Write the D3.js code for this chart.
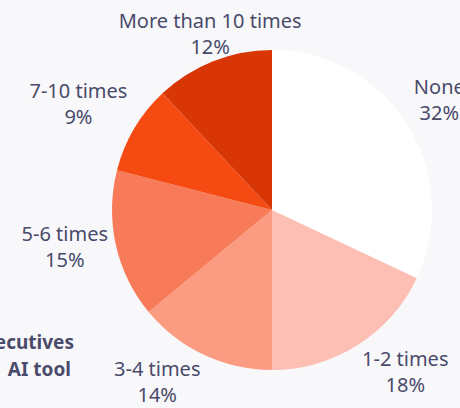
<!DOCTYPE html>
<html>
<head>
<meta charset="utf-8">
<script src="https://cdn.jsdelivr.net/npm/d3@7"></script>
<style>
  html, body { margin: 0; padding: 0; background: #f8f8fb; }
  svg { display: block; }
  .slice-label { font-family: "Noto Sans", sans-serif; font-size: 20px; fill: #4a4a6a; }
  .title { font-family: "Noto Sans", sans-serif; font-size: 19px; font-weight: 700; fill: #4a4a6a; }
</style>
</head>
<body>
<svg id="chart" width="460" height="408"></svg>
<script>

// Usage buckets, clockwise from 12 o'clock
var categories = ['None', '1-2 times', '3-4 times', '5-6 times', '7-10 times', 'More than 10 times'];
var shares = [32, 18, 14, 15, 9, 12];
var colors = ['#ffffff', '#fdbfb3', '#fb9c82', '#f77b58', '#f54a12', '#d93606'];

// Title lines (left part runs off the canvas)
var titleLines = ['How often executives', 'used an\u2002AI tool'];

var width = 460,
    height = 408,
    cx = 272,
    cy = 210,
    radius = 160;

var svg = d3.select('#chart');

var data = categories.map(function(c, i) {
	return {label: c, value: shares[i], color: colors[i]};
});

var pie = d3.pie()
	.sort(null)
	.value(function(d) { return d.value; });

var arc = d3.arc()
	.innerRadius(0)
	.outerRadius(radius);

var arcs = pie(data);

var g = svg.append('g')
	.attr('transform', 'translate(' + cx + ',' + cy + ')');

// Slices
g.selectAll('path')
	.data(arcs)
	.enter()
	.append('path')
	.attr('d', arc)
	.attr('fill', function(d) { return d.data.color; });

// Labels: an anchor point just outside the rim on the mid angle; the text
// block hangs off that point by the side / corner facing the pie
// (compass direction snapped to 45 degrees)
var lineHeight = 26;
var capHeight = 14;
var labelRadius = radius + 8;

var labels = g.selectAll('.slice-label')
	.data(arcs)
	.enter()
	.append('text')
	.attr('class', 'slice-label')
	.attr('text-anchor', 'middle');

labels.append('tspan')
	.attr('x', 0)
	.attr('dy', 0)
	.text(function(d) { return d.data.label; });

labels.append('tspan')
	.attr('x', 0)
	.attr('dy', lineHeight)
	.text(function(d) { return d.data.value + '%'; });

labels.attr('transform', function(d) {
	var a = (d.startAngle + d.endAngle) / 2;
	var w = this.getBBox().width;
	var h = capHeight + lineHeight;
	var k = Math.round(a / (Math.PI / 4)) % 8;
	var sx = Math.round(Math.sin(k * Math.PI / 4));
	var sy = -Math.round(Math.cos(k * Math.PI / 4));
	var x = Math.sin(a) * labelRadius + sx * w / 2;
	var y = -Math.cos(a) * labelRadius + sy * h / 2;
	// y is the block centre; move to the first baseline
	return 'translate(' + x + ',' + (y - h / 2 + capHeight) + ')';
});

// Title, right-aligned at the left edge
svg.append('text')
	.attr('class', 'title')
	.attr('text-anchor', 'end')
	.selectAll('tspan')
	.data(titleLines)
	.enter()
	.append('tspan')
	.attr('x', function(d, i) { return i === 0 ? 74 : 71; })
	.attr('y', function(d, i) { return 349 + i * 27; })
	.text(function(d) { return d; });

</script>
</body>
</html>
